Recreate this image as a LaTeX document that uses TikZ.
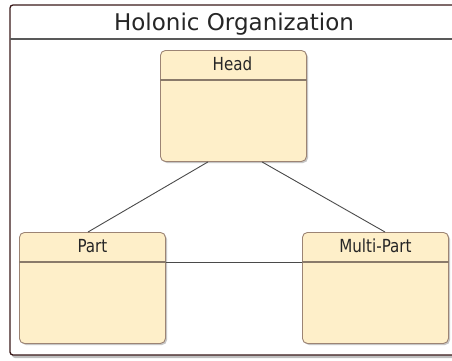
\documentclass[tikz,border=0pt]{standalone}
\usepackage{fontspec}
\setmainfont{DejaVu Sans}
\newfontfamily\lblfont[FakeStretch=0.84]{DejaVu Sans}
\usetikzlibrary{calc}
\definecolor{boxfill}{HTML}{FEEFC9}
\definecolor{boxline}{HTML}{9C8474}
\definecolor{frameline}{HTML}{3A1A1A}
\definecolor{conn}{HTML}{4A4A4A}
\definecolor{hdrline}{HTML}{8A7A6A}
\begin{document}
\begin{tikzpicture}[x=1pt,y=-1pt,
  holon/.style={draw=boxline, fill=boxfill, line width=0.9pt, rounded corners=5pt,
    minimum width=146pt, minimum height=111pt, inner sep=0pt, anchor=north west},
  holonshadow/.style={fill=black!22, rounded corners=5pt},
  hdr/.style={draw=hdrline, line width=1.2pt},
  lbl/.style={font=\lblfont\fontsize{18}{21}\selectfont, inner sep=0pt, anchor=base, text=black!85},
  connector/.style={draw=conn, line width=0.9pt}]
\useasboundingbox (0,0) rectangle (452,360);
% outer frame
\fill[black!25, rounded corners=3pt] (12,8) rectangle (459,358);
\draw[frameline, fill=white, line width=1.3pt, rounded corners=3pt] (10,5) rectangle (456,355);
\draw[draw=black!65, line width=1.2pt] (10,39) -- (456,39);
\node[font=\fontsize{23}{27}\selectfont, inner sep=0pt, anchor=base, text=black!85] (title) at (234,30) {Holonic Organization};
% shadows
\fill[holonshadow] (162,52) rectangle (308,163);
\fill[holonshadow] (21,234) rectangle (167,345);
\fill[holonshadow] (304,234) rectangle (450,345);
% boxes
\node[holon] (head) at (160,50) {};
\node[holon] (part) at (19,232) {};
\node[holon] (multi) at (302,232) {};
\draw[hdr] ($(head.north west)+(0,30)$) -- ($(head.north east)+(0,30)$);
\draw[hdr] ($(part.north west)+(0,30)$) -- ($(part.north east)+(0,30)$);
\draw[hdr] ($(multi.north west)+(0,30)$) -- ($(multi.north east)+(0,30)$);
\node[lbl] (headlbl) at ($(head.north)+(-1,20.5)$) {Head};
\node[lbl] (partlbl) at ($(part.north)+(0,20.5)$) {Part};
\node[lbl] (multilbl) at ($(multi.north)+(0,20.5)$) {Multi-Part};
% connectors
\draw[connector] ($(head.south west)+(48,0)$) -- ($(part.north west)+(69,0)$);
\draw[connector] ($(head.south west)+(102,0)$) -- ($(multi.north west)+(83,0)$);
\draw[connector] ($(part.north east)+(0,30)$) -- ($(multi.north west)+(0,30)$);
\end{tikzpicture}
\end{document}
